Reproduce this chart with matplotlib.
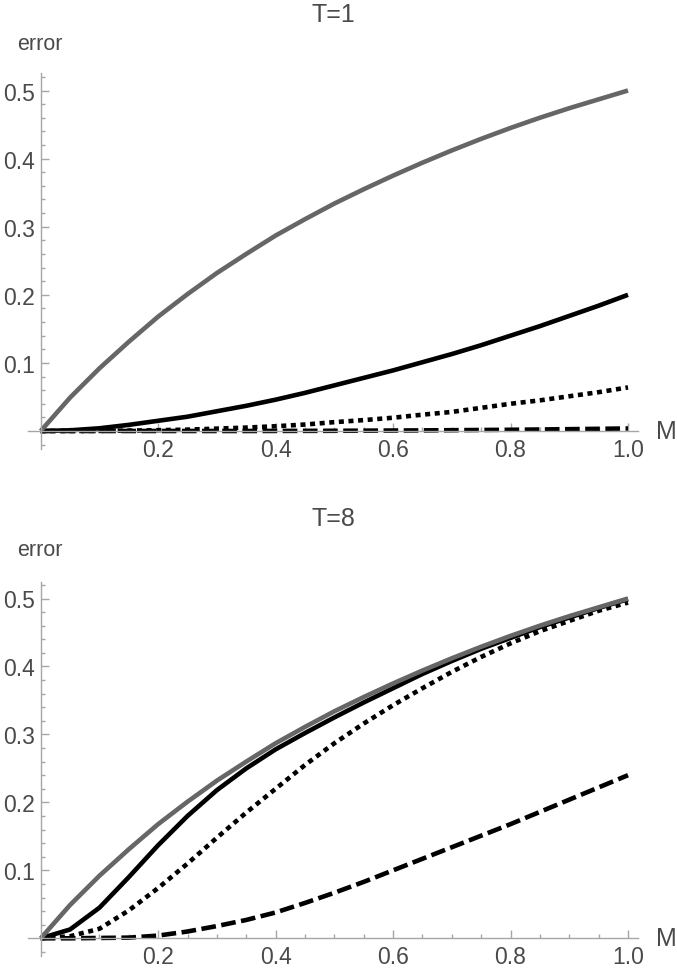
import numpy as np
import matplotlib.pyplot as plt
from matplotlib.ticker import FixedLocator
plt.rcParams["font.family"] = "Liberation Sans"
plt.rcParams["font.size"] = 16

M = [0.0, 0.05, 0.1, 0.15, 0.2, 0.25, 0.3, 0.35, 0.4, 0.45, 0.5,
     0.55, 0.6, 0.65, 0.7, 0.75, 0.8, 0.85, 0.9, 0.95, 1.0]

# T=1
gray1 = [0, .049, .092, .131, .168, .201, .232, .260, .287, .311, .334,
         .355, .375, .394, .412, .429, .445, .460, .474, .487, .5]
solid1 = [0, .001, .004, .009, .015, .021, .029, .037, .046, .056, .067,
          .078, .089, .101, .113, .126, .140, .154, .169, .184, .200]
dotted1 = [0, 0, .0002, .0006, .0012, .002, .0035, .005, .007, .0095, .013,
           .016, .0195, .024, .028, .034, .040, .045, .051, .057, .064]
dashed1 = [0, 0, 0, 0, 0, 0, 0, 0, .0001, .0002, .0003,
           .0005, .0007, .0009, .0012, .0015, .0018, .0022, .0027, .0032, .0037]

# T=8
gray8 = [0, .049, .092, .131, .168, .201, .232, .260, .287, .311, .334,
         .355, .375, .394, .412, .429, .445, .460, .474, .487, .5]
solid8 = [0, .013, .045, .090, .137, .180, .218, .250, .278, .302, .325,
          .347, .368, .389, .408, .426, .442, .458, .472, .486, .499]
dotted8 = [0, .003, .014, .041, .074, .110, .148, .185, .220, .255, .287,
           .316, .343, .368, .392, .414, .434, .452, .467, .482, .494]
dashed8 = [0, 0, .0005, .001, .004, .010, .018, .027, .038, .052, .067,
           .083, .100, .117, .134, .151, .168, .186, .204, .222, .240]

panels = [("T=1", gray1, solid1, dotted1, dashed1),
          ("T=8", gray8, solid8, dotted8, dashed8)]

axis_col = "#a6a6a6"
text_col = "#4a4a4a"

fig = plt.figure(figsize=(6.77, 9.70), dpi=100)
W, H = 677.0, 970.0

# pixel layout: (x of M=0, x of M=1, y of 0, y of 0.5)
layouts = [(40.7, 628.0, 432.0, 91.5), (40.7, 628.0, 939.3, 599.5)]
title_y = [15, 519]
error_y = [44, 550]

for (title, g, s, dt, ds), (x0, x1, y0, y5), ty, ey in zip(panels, layouts, title_y, error_y):
    xlim = (-0.03, 1.03)
    ylim = (-0.04, 0.56)
    sx = x1 - x0
    sy = (y0 - y5) / 0.5
    left = x0 + xlim[0] * sx
    right = x0 + xlim[1] * sx
    bottom = y0 - ylim[0] * sy
    top = y0 - ylim[1] * sy
    ax = fig.add_axes([left / W, 1 - bottom / H, (right - left) / W, (bottom - top) / H])
    ax.set_xlim(*xlim)
    ax.set_ylim(*ylim)
    ax.patch.set_visible(False)

    ax.spines['top'].set_visible(False)
    ax.spines['right'].set_visible(False)
    for side in ['left', 'bottom']:
        ax.spines[side].set_position(('data', 0))
        ax.spines[side].set_color(axis_col)
        ax.spines[side].set_linewidth(1.0)
    ax.spines['left'].set_bounds(-0.026, 0.525)
    ax.spines['bottom'].set_bounds(-0.022, 1.017)

    ax.set_xticks([0.2, 0.4, 0.6, 0.8, 1.0])
    ax.set_xticklabels(["0.2", "0.4", "0.6", "0.8", "1.0"])
    ax.set_yticks([0.1, 0.2, 0.3, 0.4, 0.5])
    ax.set_yticklabels(["0.1", "0.2", "0.3", "0.4", "0.5"])
    ax.xaxis.set_minor_locator(FixedLocator([i * 0.05 for i in range(1, 21) if i % 4]))
    ax.yaxis.set_minor_locator(FixedLocator([i * 0.02 for i in range(-1, 27) if i % 5]))
    ax.tick_params(which='both', direction='in', color=axis_col, width=1.0,
                   labelcolor=text_col, labelsize=16.5)
    ax.tick_params(which='major', length=5.5)
    ax.tick_params(which='minor', length=3)
    ax.tick_params(axis='x', which='major', pad=5)
    ax.tick_params(axis='y', which='major', pad=4)

    ax.plot(M, ds, color='black', lw=3.3, linestyle=(0, (3.2, 1.2)), dash_capstyle='butt')
    ax.plot(M, dt, color='black', lw=3.3, linestyle=(0, (1.1, 1.0)), dash_capstyle='butt')
    ax.plot(M, s, color='black', lw=3.3, solid_capstyle='butt')
    ax.plot(M, g, color='#666666', lw=3.3, solid_capstyle='butt')

    fig.text(333 / W, 1 - ty / H, title, ha='center', va='center', fontsize=18, color=text_col)
    fig.text(40 / W, 1 - ey / H, "error", ha='center', va='center', fontsize=15.5, color=text_col)
    fig.text(666 / W, 1 - y0 / H, "M", ha='center', va='center', fontsize=18, color=text_col)

fig.savefig("out.png", dpi=100)
